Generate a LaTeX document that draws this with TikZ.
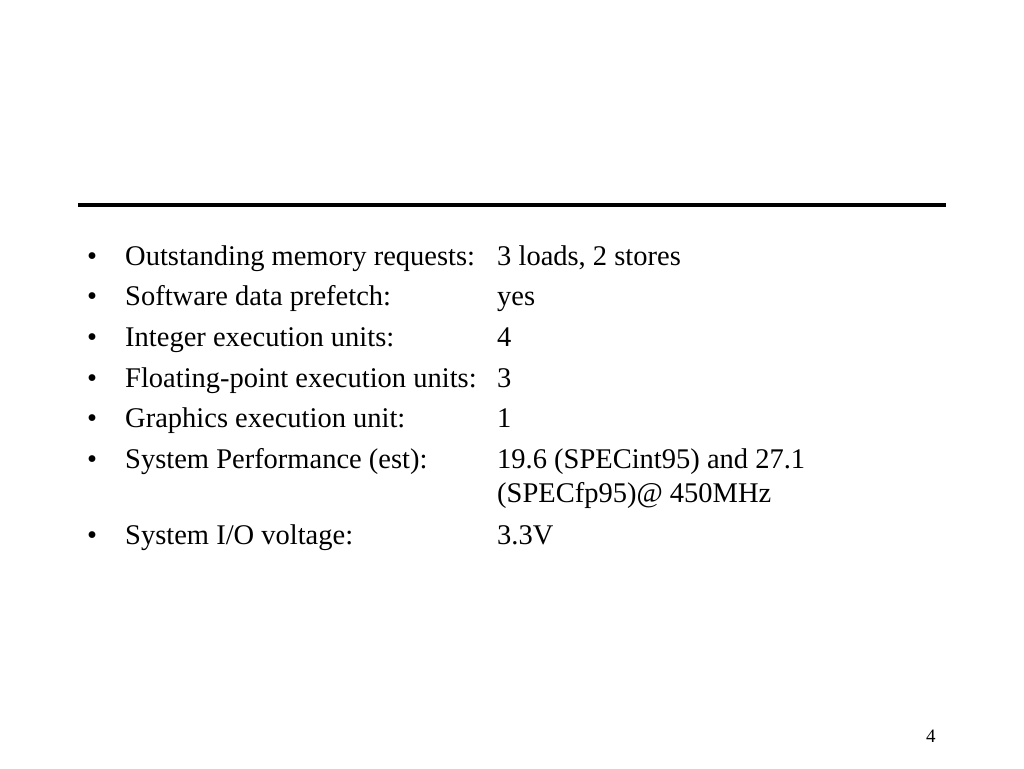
\documentclass[tikz,border=0pt]{standalone}
\usepackage{fontspec}
\setmainfont{Liberation Serif}
\usetikzlibrary{positioning}
\tikzset{
  item/.style={anchor=base west, inner sep=0pt, font=\fontsize{28.5}{33}\selectfont},
  rulebar/.style={line width=4pt}
}
\begin{document}
\begin{tikzpicture}[x=1pt,y=-1pt]
                \useasboundingbox (0,0) rectangle (1024,768);
                % title rule
                \coordinate (ruleL) at (78,205);
                \coordinate (ruleR) at (946,205);
                \draw[rulebar] (ruleL) -- (ruleR);
                % bullets
                \foreach \y/\n in {265/1,305/2,346/3,387/4,427/5,468/6,544/7}{\node[item] (bul\n) at (87,\y) {\textbullet};}
                % labels
                \node[item] (lab1) at (125,265) {Outstanding memory requests:};
                \node[item] (lab2) at (125,305) {Software data prefetch:};
                \node[item] (lab3) at (125,346) {Integer execution units:};
                \node[item] (lab4) at (125,387) {Floating-point execution units:};
                \node[item] (lab5) at (125,427) {Graphics execution unit:};
                \node[item] (lab6) at (125,468) {System Performance (est):};
                \node[item] (lab7) at (125,544) {System I/O voltage:};
                % values
                \node[item] (val1) at (497,265) {3 loads, 2 stores};
                \node[item] (val2) at (497,305) {yes};
                \node[item] (val3) at (497,346) {4};
                \node[item] (val4) at (497,387) {3};
                \node[item] (val5) at (497,427) {1};
                \node[item] (val6) at (497,468) {19.6 (SPECint95) and 27.1};
                \node[item] (val6b) at (497,502) {(SPECfp95)@ 450MHz};
                \node[item] (val7) at (497,544) {3.3V};
                % page number
                \node[item, font=\fontsize{19}{22}\selectfont] (page) at (926,742) {4};
\end{tikzpicture}
\end{document}
